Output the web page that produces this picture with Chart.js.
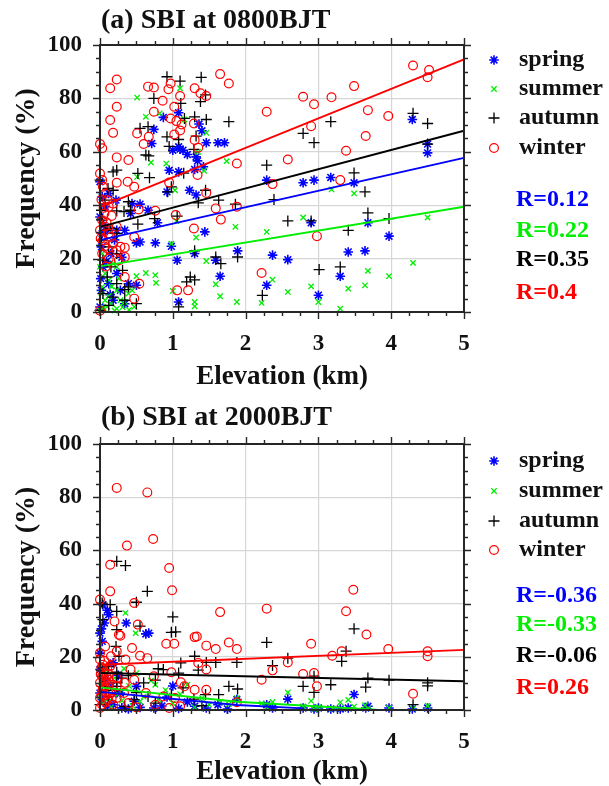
<!DOCTYPE html>
<html><head><meta charset="utf-8">
<script src="https://cdn.jsdelivr.net/npm/chart.js@4.4.1/dist/chart.umd.min.js"></script>
<style>
html,body{margin:0;padding:0;background:#fff;}
#wrap{position:relative;width:609px;height:786px;overflow:hidden;background:#fff;}
canvas{position:absolute;left:0;}
#ca{top:0}
#cb{top:393px}
</style></head><body>
<div id="wrap"><canvas id="ca" width="609" height="393"></canvas><canvas id="cb" width="609" height="393"></canvas></div>
<script>
// ---------- DATA ----------
const seasons = ['spring', 'summer', 'autumn', 'winter'];
const xTicks = [0, 1, 2, 3, 4, 5];
const yTicks = [0, 20, 40, 60, 80, 100];
const titleA = '(a) SBI at 0800BJT';
const titleB = '(b) SBI at 2000BJT';
const xTitle = 'Elevation (km)';
const yTitle = 'Frequency (%)';
const rA = ['R=0.12', 'R=0.22', 'R=0.35', 'R=0.4'];
const rB = ['R=-0.36', 'R=-0.33', 'R=-0.06', 'R=0.26'];

// Panel (a) 0800BJT : [elevation km, frequency %]
const springA = [[0.87,72.9],[1.08,74.6],[0.74,68.4],[0.71,63.1],[1.08,61.9],[1.14,60.6],[1.0,60.6],[1.36,70.4],[1.40,67.9],[1.46,63.4],[1.62,63.4],[1.71,63.4],[0.95,53.1],[1.08,52.5],[1.32,58.1],[1.34,56.6],[1.42,54.4],[1.30,53.4],[0.55,40.4],[0.44,40.6],[0.66,38.1],[0.79,33.4],[0.50,25.9],[0.55,26.2],[0.76,25.9],[0.98,24.6],[1.44,30.0],[1.06,19.4],[1.30,21.9],[1.59,19.4],[1.65,13.4],[1.89,22.9],[1.08,3.75],[1.23,45.6],[1.32,43.8],[2.29,10.0],[2.29,49.4],[2.37,21.3],[2.58,19.6],[2.79,48.4],[2.94,49.4],[2.90,33.4],[3.00,6.3],[3.17,50.4],[3.30,13.4],[3.41,22.5],[3.49,48.4],[3.64,22.9],[3.68,33.4],[3.97,28.4],[4.29,72.1],[4.50,62.9],[4.50,59.6],[0.0,35.6],[0.03,43.1],[0.12,44.4],[0.22,41.9],[0.07,39.4],[0.03,29.4],[0.10,30.6],[0.23,30.6],[0.34,30.6],[0.02,24.4],[0.15,21.9],[0.04,16.9],[0.23,14.4],[0.12,10.6],[0.39,10.6],[0.02,8.1],[0.28,8.1],[0.18,4.4],[0.34,3.1],[0.0,1.9],[0.50,10.0],[0.42,36.9],[0.0,48.8],[1.10,61.0],[0.92,45.0],[1.20,59.0],[0.05,32.5],[0.09,19.0],[0.20,27.0],[0.30,20.5],[0.01,12.5],[0.14,6.5]];
const summerA = [[0.51,80.3],[0.63,73.1],[0.82,74.4],[1.10,83.8],[0.91,55.6],[1.16,72.1],[1.46,67.1],[1.74,56.5],[0.51,50.6],[1.03,45.6],[1.43,52.9],[1.86,31.9],[1.32,27.9],[1.46,19.1],[0.98,25.6],[0.63,14.6],[0.77,10.9],[0.76,13.8],[1.00,7.9],[1.30,3.75],[1.30,2.1],[1.59,10.4],[1.65,5.9],[1.88,3.75],[2.22,3.4],[2.37,12.1],[2.29,30.0],[2.58,7.5],[2.79,35.4],[2.90,9.6],[3.00,3.75],[3.18,45.9],[3.30,1.25],[3.41,8.75],[3.49,44.4],[3.64,10.0],[3.68,15.4],[3.97,13.4],[4.30,18.4],[4.50,35.4],[0.02,6.9],[0.07,4.4],[0.15,3.1],[0.23,1.25],[0.34,3.75],[0.03,9.4],[0.12,11.9],[0.23,8.1],[0.39,6.9],[0.47,1.9],[0.07,14.4],[0.0,16.9],[0.18,18.1],[0.0,0.6],[0.28,4.4],[0.44,8.1],[0.50,13.4],[0.23,16.9],[0.03,21.9],[0.10,2.0],[0.20,0.5],[0.40,0.8],[0.12,6.0],[1.05,34.0],[1.35,60.0],[0.70,56.0],[0.05,1.5],[0.16,9.5],[0.31,1.8],[0.26,12.5]];
const autumnA = [[0.92,88.1],[1.10,86.5],[1.39,87.9],[0.74,80.0],[1.11,78.1],[1.38,78.8],[1.45,81.3],[1.77,71.3],[0.55,68.8],[0.66,69.4],[0.63,58.8],[0.67,58.5],[0.92,65.6],[1.08,64.6],[1.16,72.5],[1.30,73.1],[1.32,65.9],[1.46,72.1],[1.29,60.9],[0.98,46.9],[0.93,45.0],[0.52,51.9],[0.68,50.3],[0.18,52.5],[0.23,53.1],[0.0,49.4],[0.11,46.3],[0.18,45.6],[0.39,41.3],[0.42,38.1],[0.23,37.9],[0.33,37.6],[0.52,32.9],[0.75,35.0],[1.06,35.9],[1.35,40.9],[1.45,45.6],[1.63,41.9],[1.86,40.4],[1.59,20.6],[1.66,18.1],[1.89,20.6],[1.30,22.9],[1.24,13.1],[1.19,11.3],[1.08,1.9],[0.50,3.1],[2.29,55.0],[2.39,42.1],[2.58,34.1],[2.23,6.25],[2.79,66.9],[2.94,63.4],[2.90,34.1],[3.01,15.9],[3.17,71.3],[3.30,16.9],[3.41,30.6],[3.49,52.1],[3.64,45.0],[3.68,37.1],[3.97,35.0],[4.30,74.4],[4.50,70.6],[4.50,62.9],[0.03,34.4],[0.07,30.6],[0.15,31.3],[0.23,29.4],[0.02,26.9],[0.12,24.4],[0.23,21.9],[0.04,19.4],[0.15,16.9],[0.31,15.6],[0.10,13.1],[0.23,10.6],[0.39,9.4],[0.04,6.9],[0.18,5.6],[0.34,4.4],[0.0,0.6],[0.12,2.5],[0.34,8.4],[0.07,41.9],[0.02,38.1],[1.30,12.0],[0.95,62.0],[1.15,52.0]];
const winterA = [[0.14,83.8],[0.23,87.1],[0.23,76.9],[0.14,71.9],[0.18,67.1],[0.0,62.9],[0.03,61.3],[0.23,57.9],[0.39,56.9],[0.66,84.4],[0.74,84.1],[0.74,75.0],[0.86,79.1],[0.97,85.6],[0.94,83.4],[1.10,80.9],[1.02,76.9],[1.05,71.5],[1.12,70.2],[0.97,72.5],[0.51,66.9],[0.60,62.9],[0.67,65.6],[1.30,83.8],[1.38,81.9],[1.46,80.9],[1.29,70.6],[1.30,64.4],[1.65,89.1],[1.77,85.6],[1.34,51.3],[1.46,44.6],[1.59,38.8],[1.66,34.6],[1.88,55.6],[1.88,39.4],[2.29,75.0],[2.58,57.1],[2.37,47.9],[2.22,14.6],[2.79,80.6],[2.94,77.8],[2.90,69.6],[3.18,80.4],[2.98,28.4],[3.30,49.4],[3.38,60.4],[3.49,84.6],[3.68,75.6],[3.65,65.9],[3.96,73.4],[4.30,92.3],[4.50,87.9],[4.52,90.6],[1.06,8.1],[1.21,8.1],[1.29,31.3],[0.54,10.6],[0.53,38.4],[0.76,37.9],[0.38,48.8],[0.47,46.9],[0.23,48.4],[0.47,28.1],[1.04,36.3],[0.0,51.9],[0.03,49.4],[0.04,46.9],[0.07,44.4],[0.02,42.1],[0.10,41.9],[0.12,39.4],[0.18,40.6],[0.06,36.9],[0.03,34.4],[0.07,31.9],[0.0,30.6],[0.12,29.4],[0.04,26.9],[0.18,25.6],[0.10,23.8],[0.23,23.1],[0.03,21.9],[0.12,20.0],[0.28,24.4],[0.34,20.6],[0.34,24.1],[0.15,28.1],[0.23,31.9],[0.26,19.4],[0.34,13.1],[0.47,5.0],[0.0,0.5],[1.35,61.5],[1.02,66.5],[0.95,48.5],[1.10,68.0],[0.05,39.0],[0.09,33.5],[0.01,27.5],[0.08,17.0],[0.16,36.0],[0.06,24.5]];
// regression lines, panel (a)
const fitSpringA = [[0, 26.9], [5, 57.7]];
const fitSummerA = [[0, 17.1], [5, 39.4]];
const fitAutumnA = [[0, 31.9], [5, 67.9]];
const fitWinterA = [[0, 39.4], [5, 94.6]];

// Panel (b) 2000BJT
const springB = [[0.04,39.6],[0.0,28.9],[0.03,25.8],[0.12,35.8],[0.36,32.7],[0.63,28.6],[0.67,28.9],[0.06,32.7],[0.0,21.4],[0.18,17.7],[0.28,6.4],[0.47,3.3],[0.18,2.0],[0.39,0.4],[0.74,0.75],[0.92,4.9],[1.08,0.6],[1.30,1.4],[1.46,0.75],[1.62,2.0],[1.75,0.4],[1.88,3.9],[2.29,2.0],[2.37,0.75],[2.58,4.1],[2.79,0.75],[2.94,0.4],[3.00,0.75],[3.17,0.4],[3.30,0.4],[3.41,0.75],[3.49,5.8],[3.65,0.75],[3.68,1.4],[3.97,0.75],[4.29,0.4],[4.50,0.75],[0.0,15.2],[0.07,11.4],[0.15,8.9],[0.0,6.4],[0.23,6.4],[0.03,3.9],[0.10,1.4],[0.50,8.9],[0.02,30.5],[0.10,37.5],[0.25,13.0],[0.55,1.0],[0.85,1.5],[1.20,3.0],[1.00,9.0],[0.30,0.8]];
const summerB = [[0.35,36.5],[0.49,28.9],[2.58,6.6],[3.30,2.9],[3.20,0.5],[3.97,0.75],[4.50,1.6],[1.65,3.0],[1.88,4.5],[0.76,9.5],[0.50,13.9],[0.0,5.0],[0.05,3.0],[0.10,8.0],[0.15,1.0],[0.20,12.0],[0.25,6.0],[0.30,3.5],[0.40,9.0],[0.45,1.5],[0.60,5.0],[0.70,11.0],[0.90,7.5],[1.00,2.5],[1.10,6.0],[1.30,1.0],[1.40,4.5],[1.50,2.0],[2.22,2.5],[2.29,1.0],[2.37,3.0],[2.79,1.4],[2.90,3.4],[3.00,1.0],[3.41,3.8],[3.49,1.3],[3.64,1.8],[3.68,0.6],[4.30,0.5],[0.02,10.5],[0.08,15.0],[0.12,4.5],[0.33,15.5],[0.55,3.2],[0.80,4.0],[1.20,9.5],[1.77,2.2],[2.94,0.3]];
const autumnB = [[0.23,55.9],[0.35,54.3],[0.65,44.6],[0.50,40.5],[0.14,39.6],[0.23,37.1],[0.03,40.2],[0.04,34.0],[1.00,35.0],[0.98,29.2],[1.04,29.4],[0.55,31.5],[0.23,30.2],[0.22,23.9],[0.26,20.2],[0.03,15.8],[0.12,16.4],[0.23,14.2],[0.39,12.9],[0.08,7.4],[0.23,10.2],[0.60,10.2],[0.76,11.2],[0.87,15.2],[1.08,13.9],[1.11,17.7],[1.30,20.2],[1.46,17.9],[1.59,17.9],[1.88,17.9],[2.29,25.4],[2.37,16.7],[2.58,19.5],[2.79,8.9],[2.94,6.6],[2.94,12.7],[3.17,9.5],[3.32,18.3],[3.38,22.1],[3.49,30.5],[3.65,8.6],[3.68,12.0],[3.97,11.2],[4.30,2.0],[4.50,10.2],[4.50,9.1],[1.89,7.9],[1.77,8.9],[1.63,5.8],[1.45,5.8],[1.29,4.1],[0.98,5.8],[1.14,8.3],[0.66,5.1],[0.47,3.9],[0.34,1.4],[0.76,2.6],[1.40,1.6],[0.23,8.9],[0.03,12.7],[0.03,8.9],[0.0,2.0],[0.12,5.0],[0.50,6.5],[0.80,15.5],[1.35,15.0],[0.30,12.0]];
const winterB = [[0.23,83.5],[0.65,81.8],[0.73,64.3],[0.37,61.8],[0.14,54.6],[0.95,53.4],[0.99,45.0],[0.14,44.6],[0.0,41.5],[0.47,40.2],[1.65,36.8],[2.29,38.1],[3.48,45.2],[3.38,37.1],[3.66,28.4],[3.96,22.9],[4.50,22.1],[4.50,20.2],[4.30,6.1],[3.19,20.4],[3.32,22.1],[2.90,24.9],[2.79,13.5],[2.94,13.9],[2.98,8.9],[2.58,17.9],[2.37,14.9],[2.22,11.4],[1.88,22.9],[1.77,25.4],[1.59,22.9],[1.46,24.2],[1.30,27.4],[1.33,27.6],[0.91,24.9],[1.02,24.9],[0.52,32.1],[0.26,28.3],[0.28,27.9],[0.20,33.3],[0.44,23.3],[0.55,20.4],[0.65,19.5],[0.74,12.7],[0.98,14.2],[1.11,10.4],[1.16,8.9],[1.30,7.6],[1.35,17.7],[1.46,15.2],[1.46,7.6],[1.88,2.9],[1.03,4.5],[0.95,0.75],[1.10,1.4],[0.50,1.0],[0.0,21.4],[0.0,19.0],[0.04,17.0],[0.10,15.2],[0.03,12.7],[0.12,11.4],[0.0,10.2],[0.07,8.9],[0.03,7.0],[0.15,6.4],[0.0,4.5],[0.10,3.9],[0.03,2.0],[0.18,2.0],[0.0,0.75],[0.23,4.5],[0.23,8.9],[0.23,12.0],[0.34,10.2],[0.33,6.4],[0.39,2.6],[0.15,20.2],[0.07,23.9],[0.23,22.1],[0.35,19.0],[0.42,15.2],[0.47,11.4],[0.63,6.4],[0.76,2.0],[0.87,5.1],[0.05,14.0],[0.08,11.0],[0.06,5.5],[0.10,9.8],[0.02,16.0],[0.12,13.5],[0.18,9.5],[0.04,8.0],[0.08,3.0],[0.01,13.5],[0.06,18.5],[0.11,6.8],[0.05,10.8],[0.14,16.5],[0.02,5.8],[0.09,12.4],[0.16,4.2]];
// regression lines, panel (b)
const fitSpringB = [[0, 6.8], [1.88, 1.9], [2.8, 0.6]];
const fitSummerB = [[0, 8.5], [1.88, 3.1], [3.8, 0.1]];
const fitAutumnB = [[0, 13.9], [5, 10.8]];
const fitWinterB = [[0, 17.0], [5, 22.6]];

// ---------- STYLE ----------
const SERIF = '"Liberation Serif", "Times New Roman", serif';
const colors = { spring: '#0000ff', summer: '#00ee00', autumn: '#000000', winter: '#ff0000' };
const markers = {
  spring: { style: 'star', r: 4.8, w: 1.6 },
  summer: { style: 'crossRot', r: 3.8, w: 1.3 },
  autumn: { style: 'cross', r: 5.5, w: 1.3 },
  winter: { style: 'circle', r: 4.4, w: 1.2 }
};
const drawOrder = { spring: 4, summer: 3, autumn: 2, winter: 1 };

function toPts(arr) { return arr.map(p => ({ x: p[0], y: p[1] })); }

function drawMarker(ctx, s, x, y) {
  const m = markers[s];
  ctx.save();
  ctx.strokeStyle = colors[s];
  ctx.fillStyle = 'rgba(0,0,0,0)';
  ctx.lineWidth = m.w;
  if (Chart.helpers && Chart.helpers.drawPoint) {
    Chart.helpers.drawPoint(ctx, { pointStyle: m.style, radius: m.r, rotation: 0, borderWidth: m.w }, x, y);
  } else {
    ctx.beginPath();
    if (m.style === 'circle') ctx.arc(x, y, m.r, 0, Math.PI * 2);
    else {
      const d = m.r;
      if (m.style !== 'crossRot') { ctx.moveTo(x - d, y); ctx.lineTo(x + d, y); ctx.moveTo(x, y - d); ctx.lineTo(x, y + d); }
      if (m.style !== 'cross') { const e = d * 0.7071; ctx.moveTo(x - e, y - e); ctx.lineTo(x + e, y + e); ctx.moveTo(x - e, y + e); ctx.lineTo(x + e, y - e); }
    }
    ctx.stroke();
  }
  ctx.restore();
}

const framePlugin = {
  id: 'frame',
  afterDraw(chart, args, opts) {
    const { ctx, chartArea: a } = chart;
    const xs = chart.scales.x, ys = chart.scales.y;
    ctx.save();
    ctx.strokeStyle = '#262626';
    ctx.lineWidth = 1.4;
    ctx.beginPath();
    for (let i = 0; i <= 20; i++) {
      const v = i * 0.25, px = Math.round(xs.getPixelForValue(v)) + 0.5;
      const L = (i % 4 === 0) ? 7 : 4;
      ctx.moveTo(px, a.bottom); ctx.lineTo(px, a.bottom + L);
      ctx.moveTo(px, a.top); ctx.lineTo(px, a.top - L);
    }
    for (let i = 0; i <= 20; i++) {
      const v = i * 5, py = Math.round(ys.getPixelForValue(v)) + 0.5;
      const L = (i % 4 === 0) ? 7 : 4;
      ctx.moveTo(a.left, py); ctx.lineTo(a.left - L, py);
      ctx.moveTo(a.right, py); ctx.lineTo(a.right + L, py);
    }
    ctx.stroke();
    ctx.lineWidth = 2;
    ctx.strokeRect(a.left, a.top, a.right - a.left, a.bottom - a.top);
    // title
    ctx.fillStyle = '#111';
    ctx.textBaseline = 'middle';
    ctx.textAlign = 'left';
    ctx.font = 'bold 28px ' + SERIF;
    ctx.fillText(opts.title, 101, opts.titleY);
    // legend
    ctx.font = 'bold 24px ' + SERIF;
    seasons.forEach((s, i) => {
      const y = opts.legendY[i];
      drawMarker(ctx, s, 494, y);
      ctx.fillStyle = '#111';
      ctx.fillText(s, 519, y);
    });
    // correlation labels
    opts.r.forEach((t, i) => {
      ctx.fillStyle = colors[seasons[i]];
      ctx.fillText(t, 516, opts.rY[i]);
    });
    ctx.restore();
  }
};

function makePanel(canvas, pts, fits, opts) {
  const datasets = [];
  seasons.forEach((s, i) => {
    datasets.push({
      label: s + ' fit', data: toPts(fits[i]), showLine: true, borderColor: colors[s],
      borderWidth: 1.9, pointRadius: 0, fill: false, order: 0, tension: 0, clip: false
    });
  });
  seasons.forEach((s, i) => {
    const m = markers[s];
    datasets.push({
      label: s, data: toPts(pts[i]), showLine: false, pointStyle: m.style, pointRadius: m.r,
      pointBorderColor: colors[s], pointBackgroundColor: 'rgba(0,0,0,0)', pointBorderWidth: m.w,
      borderColor: colors[s], order: drawOrder[s], clip: false
    });
  });
  const tickFont = { family: SERIF, size: 23, weight: 'bold' };
  return new Chart(canvas, {
    type: 'scatter',
    data: { datasets },
    plugins: [framePlugin],
    options: {
      responsive: false, animation: false, devicePixelRatio: 1,
      layout: { padding: { top: opts.top, right: 145, left: 0, bottom: 0 } },
      plugins: { legend: { display: false }, tooltip: { enabled: false }, title: { display: false },
        frame: { title: opts.title, titleY: opts.titleY, legendY: opts.legendY, r: opts.r, rY: opts.rY } },
      scales: {
        x: {
          type: 'linear', min: 0, max: 5,
          afterBuildTicks: sc => { sc.ticks = xTicks.map(v => ({ value: v })); },
          afterFit: sc => { sc.height = opts.xh; },
          ticks: { font: tickFont, color: '#111', padding: 18, maxRotation: 0 },
          grid: { color: '#d6d6d6', lineWidth: 1.2, drawTicks: false },
          border: { display: false },
          title: { display: true, text: xTitle, color: '#111', font: { family: SERIF, size: 27, weight: 'bold', lineHeight: 1 }, padding: { top: 0, bottom: opts.xtPad } }
        },
        y: {
          type: 'linear', min: 0, max: 100,
          afterBuildTicks: sc => { sc.ticks = yTicks.map(v => ({ value: v })); },
          afterFit: sc => { sc.width = 100; },
          ticks: { font: tickFont, color: '#111', padding: 18 },
          grid: { color: '#d6d6d6', lineWidth: 1.2, drawTicks: false },
          border: { display: false },
          title: { display: true, text: yTitle, color: '#111', font: { family: SERIF, size: 28, weight: 'bold', lineHeight: 1 }, padding: { top: 13, bottom: 0 } }
        }
      }
    }
  });
}

makePanel(document.getElementById('ca'),
  [springA, summerA, autumnA, winterA],
  [fitSpringA, fitSummerA, fitAutumnA, fitWinterA],
  { top: 45, xh: 81, xtPad: 2.5, title: titleA, titleY: 21, legendY: [60, 89, 118, 148], r: rA, rY: [200, 231, 260, 293] });

makePanel(document.getElementById('cb'),
  [springB, summerB, autumnB, winterB],
  [fitSpringB, fitSummerB, fitAutumnB, fitWinterB],
  { top: 51, xh: 76, xtPad: 0, title: titleB, titleY: 25, legendY: [68, 98, 128, 157], r: rB, rY: [203, 232, 263, 295] });
</script>
</body></html>
